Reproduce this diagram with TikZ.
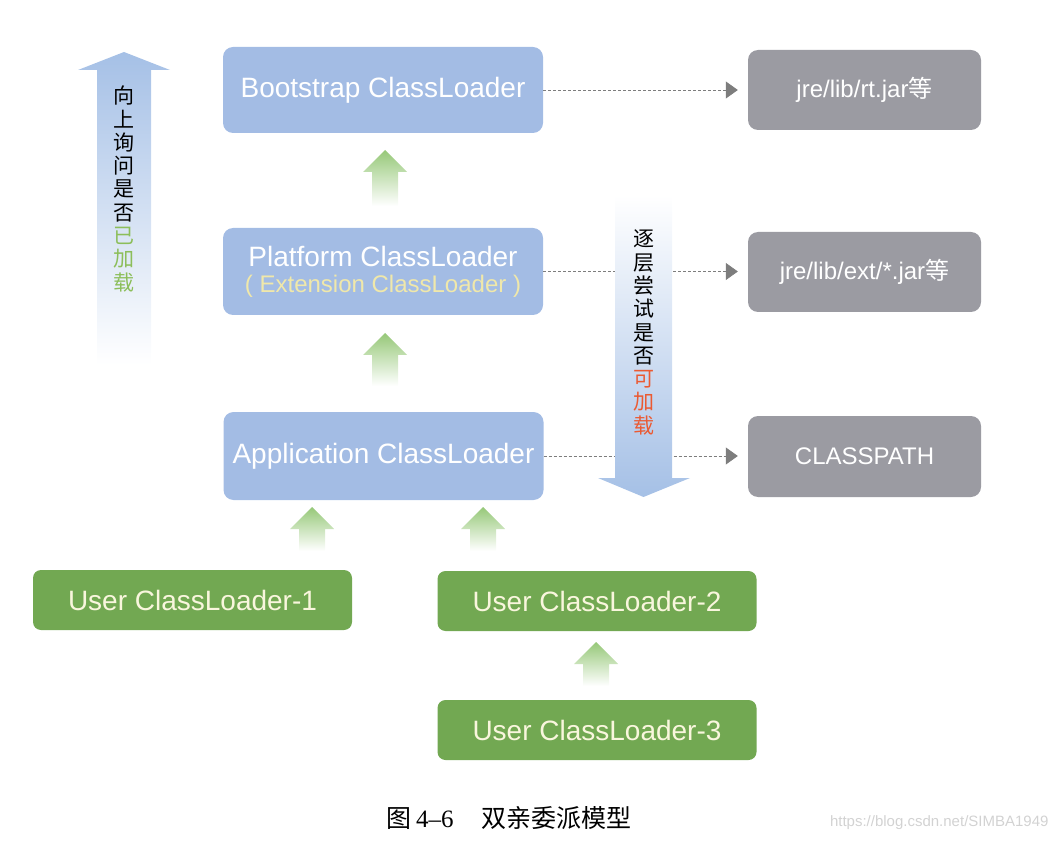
\documentclass[tikz,border=0pt]{standalone}
\usepackage{fontspec}
\setmainfont{Liberation Sans}
\newfontfamily\cjk{Noto Sans CJK SC}
\newfontfamily\serifx{Liberation Serif}
\usetikzlibrary{arrows.meta,calc}
\definecolor{boxblue}{RGB}{163,188,228}
\definecolor{boxgray}{RGB}{155,155,162}
\definecolor{boxgreen}{RGB}{114,168,82}
\definecolor{arrgreen}{RGB}{150,200,120}
\definecolor{arrblue}{RGB}{165,192,230}
\definecolor{txtyellow}{RGB}{240,232,170}
\definecolor{txtgreen}{RGB}{140,190,90}
\definecolor{txtred}{RGB}{235,90,50}
\definecolor{dashgray}{RGB}{125,125,125}
\newcommand\greenup[3]{%
  \shade[top color=arrgreen, bottom color=white]
    (#1,#2) -- (#1+22,#2+22) -- (#1+13,#2+22) -- (#1+13,#3) -- (#1-13,#3)
    -- (#1-13,#2+22) -- (#1-22,#2+22) -- cycle;}
\tikzset{
  loader/.style={rounded corners=10pt, fill=boxblue, text=white, minimum width=320pt,
    minimum height=86pt, font=\fontsize{28}{29}\selectfont, align=center, inner sep=0pt},
  pathbox/.style={rounded corners=10pt, fill=boxgray, text=white, minimum width=233pt,
    minimum height=80pt, font=\fontsize{24}{26}\selectfont, inner sep=0pt},
  userbox/.style={rounded corners=8pt, fill=boxgreen, text=txtyellow!40!white,
    minimum width=319pt, minimum height=60pt, font=\fontsize{28}{30}\selectfont, inner sep=0pt},
  dasharrow/.style={dashgray, densely dashed, line width=0.7pt,
    -{Triangle[length=12pt,width=17pt]}, shorten >=10pt},
  vtext/.style={font=\cjk\fontsize{21}{23.3}\selectfont, align=center, inner sep=0pt},
}
\begin{document}
\begin{tikzpicture}[x=1pt,y=-1pt]
\useasboundingbox (0,0) rectangle (1058,842);
% loaders
\node[loader] (b) at (383,90) {Bootstrap ClassLoader};
\node[loader, minimum height=87pt] (p) at (383,271.5) {Platform ClassLoader\\[-3pt]{\fontsize{24}{25}\selectfont\color{txtyellow}( Extension ClassLoader )}};
\node[loader, minimum height=88pt] (a) at (383.5,456) {Application ClassLoader};
% paths
\node[pathbox] (g1) at (864.5,90) {jre/lib/rt.jar{\cjk 等}};
\node[pathbox] (g2) at (864.5,272) {jre/lib/ext/*.jar{\cjk 等}};
\node[pathbox, minimum height=81pt] (g3) at (864.5,456.5) {CLASSPATH};
% user loaders
\node[userbox] (u1) at (192.5,600) {User ClassLoader-1};
\node[userbox] (u2) at (597,601) {User ClassLoader-2};
\node[userbox] (u3) at (597,730) {User ClassLoader-3};
% dashed connectors
\draw[dasharrow] (b.east) -- (b.east -| g1.west);
\draw[dasharrow] (p.east) -- (p.east -| g2.west);
\draw[dasharrow] (a.east) -- (a.east -| g3.west);
% big left arrow (upwards)
\shade[top color=arrblue, middle color=arrblue!75!white, bottom color=white]
  (124,52) -- (170,70) -- (151,70) -- (151,365) -- (97,365) -- (97,70) -- (78,70) -- cycle;
\node[vtext] (up) at (124,189) {向\\上\\询\\问\\是\\否\\\textcolor{txtgreen}{已}\\\textcolor{txtgreen}{加}\\\textcolor{txtgreen}{载}};
% big right arrow (downwards)
\shade[top color=white, middle color=arrblue!75!white, bottom color=arrblue]
  (615,195) -- (672,195) -- (672,478) -- (690,478) -- (643.5,497) -- (598,478) -- (615,478) -- cycle;
\node[vtext] (down) at (643.5,332.5) {逐\\层\\尝\\试\\是\\否\\\textcolor{txtred}{可}\\\textcolor{txtred}{加}\\\textcolor{txtred}{载}};
% green delegation arrows
\greenup{385}{150}{206}
\greenup{385}{333}{386}
\greenup{312}{507}{551}
\greenup{483}{507}{551}
\greenup{596}{642}{686}
% caption
\node (cap) at (509,818) {\cjk\fontsize{25}{27}\selectfont 图\,{\serifx 4–6}\hspace{1.1em}双亲委派模型};
\node[anchor=east, text=gray!35, font=\fontsize{15}{17}\selectfont] (wm) at (1052,823) {https://blog.csdn.net/SIMBA1949};
\end{tikzpicture}
\end{document}
